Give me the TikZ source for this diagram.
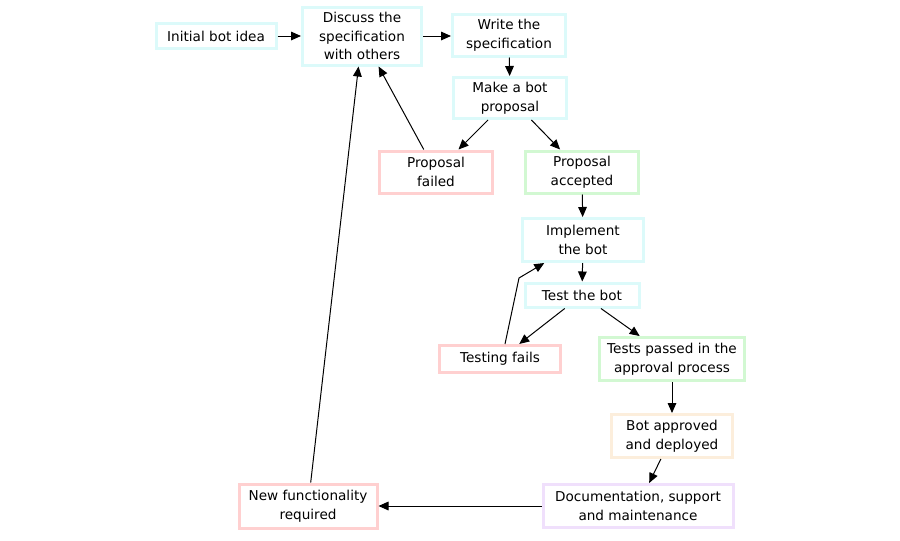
\documentclass[tikz,border=0pt]{standalone}
\usepackage{fontspec}
\setmainfont{DejaVu Sans}
\usetikzlibrary{arrows.meta}
\definecolor{cyanedge}{HTML}{DCFAFA}
\definecolor{failedge}{HTML}{FFD0D0}
\definecolor{passedge}{HTML}{D2F8D2}
\definecolor{deployedge}{HTML}{FCEEDC}
\definecolor{docedge}{HTML}{F0E0FC}
\tikzset{
  stage box/.style={
      draw, line width=2.25pt, align=center, inner sep=2pt,
      font=\fontsize{10.2}{13.9}\selectfont
    },
  flow arrow/.style={
      line width=0.75pt,
        -{Triangle[length=7.5pt,width=6.5pt]}
    }
}

\begin{document}
\begin{tikzpicture}[x=0.75pt, y=-0.75pt]
  \useasboundingbox (0,0) rectangle (900,540);

  % ------------------------------------------------------------------
  % Idea and specification.
  % ------------------------------------------------------------------
  \node[stage box, draw=cyanedge, minimum width=90pt, minimum height=18.75pt]
  (idea) at (216,36) {Initial bot idea};
  \node[stage box, draw=cyanedge, minimum width=89.25pt, minimum height=43.5pt]
  (discuss) at (362,36) {Discuss the\\specification\\with others};
  \node[stage box, draw=cyanedge, minimum width=84.75pt, minimum height=31.5pt]
  (write) at (509,35) {Write the\\specification};
  \node[stage box, draw=cyanedge, minimum width=84.75pt, minimum height=30.75pt]
  (proposal) at (510,98) {Make a bot\\proposal};

  % ------------------------------------------------------------------
  % Approval of the proposal.
  % ------------------------------------------------------------------
  \node[stage box, draw=failedge, minimum width=84.75pt, minimum height=31.5pt]
  (failed) at (436,172) {Proposal\\failed};
  \node[stage box, draw=passedge, minimum width=84.75pt, minimum height=31.5pt]
  (accepted) at (582,172) {Proposal\\accepted};

  % ------------------------------------------------------------------
  % Implementation and tests.
  % ------------------------------------------------------------------
  \node[stage box, draw=cyanedge, minimum width=90.75pt, minimum height=32.25pt]
  (implement) at (583,240) {Implement\\the bot};
  \node[stage box, draw=cyanedge, minimum width=85.5pt, minimum height=18pt]
  (test) at (582,295) {Test the bot};
  \node[stage box, draw=failedge, minimum width=90.75pt, minimum height=20.25pt]
  (fails) at (500,359) {Testing fails};
  \node[stage box, draw=passedge, minimum width=108.75pt, minimum height=32.25pt]
  (passed) at (672,359) {Tests passed in the\\approval process};

  % ------------------------------------------------------------------
  % Deployment and further work.
  % ------------------------------------------------------------------
  \node[stage box, draw=deployedge, minimum width=90.75pt, minimum height=32.25pt]
  (approved) at (672,436) {Bot approved\\and deployed};
  \node[stage box, draw=docedge, minimum width=142.5pt, minimum height=32.25pt]
  (support) at (638,506) {Documentation, support\\and maintenance};
  \node[stage box, draw=failedge, minimum width=103.5pt, minimum height=33pt]
  (newfunc) at (308,506) {New functionality\\required};

  \coordinate (retest) at (519,278);

  % ------------------------------------------------------------------
  % Connectors.
  % ------------------------------------------------------------------
  \draw[flow arrow] (idea) -- (discuss);
  \draw[flow arrow] (discuss) -- (discuss -| write.west);
  \draw[flow arrow] (write) -- (proposal);
  \draw[flow arrow] (proposal) -- (failed);
  \draw[flow arrow] (proposal) -- (accepted);
  \draw[flow arrow] (failed) -- (discuss);
  \draw[flow arrow] (accepted) -- (implement);
  \draw[flow arrow] (implement) -- (test);
  \draw[flow arrow] (test) -- (fails);
  \draw[flow arrow] (test) -- (passed);
  \draw[flow arrow] ([xshift=3.75pt]fails.north) -- (retest) -- (implement);
  \draw[flow arrow] (passed) -- (approved);
  \draw[flow arrow] (approved) -- (support);
  \draw[flow arrow] (support) -- (newfunc);
  \draw[flow arrow] (newfunc) -- (discuss);

\end{tikzpicture}
\end{document}
